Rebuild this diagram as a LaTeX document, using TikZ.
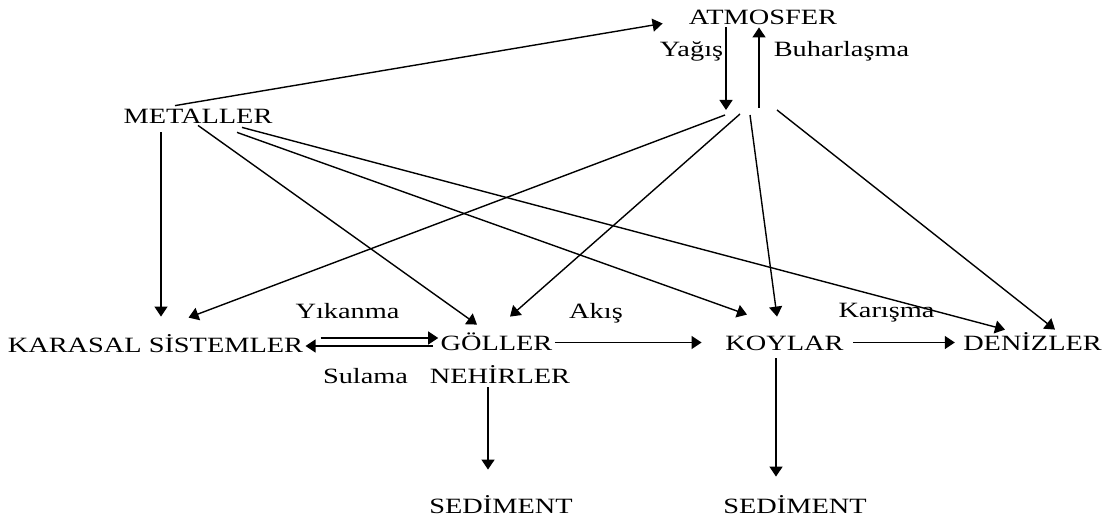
\documentclass[tikz,border=0pt]{standalone}
\usepackage{fontspec}
\setmainfont{Liberation Serif}[FakeStretch=1.3]
\usepackage{tikz}
\usetikzlibrary{arrows.meta}

\begin{document}
\begin{tikzpicture}[x=0.5pt,y=-0.5pt,
  every node/.style={font=\fontsize{10.9pt}{13pt}\selectfont,anchor=base},
  yer/.style={inner sep=1pt,text height=7.5pt,text depth=0pt},
  ok/.style={line width=0.7pt,-{Triangle[length=5pt,width=6.5pt]}}]
\useasboundingbox (0,0) rectangle (1112,519);
\node[yer] (atm) at (763,25) {ATMOSFER};
\node[yer] (met) at (198,123) {METALLER};
\node[yer] (kar) at (155.5,352) {KARASAL SİSTEMLER};
\node[yer] (gol) at (496.5,350) {GÖLLER};
\node[yer] (koy) at (784.5,350) {KOYLAR};
\node[yer] (den) at (1032.5,350) {DENİZLER};
\node[yer] (neh) at (500,383) {NEHİRLER};
\node[yer] (sed1) at (501,513) {SEDİMENT};
\node[yer] (sed2) at (795,513) {SEDİMENT};
\node (yag) at (691.5,57) {Yağış};
\node (buh) at (841.5,57) {Buharlaşma};
\node (yik) at (347.5,318) {Yıkanma};
\node (aki) at (596,318) {Akış};
\node (kari) at (886.5,317) {Karışma};
\node (sul) at (365.5,383) {Sulama};
\coordinate (inis) at (726,110);
\coordinate (cikis) at (759,108);
\coordinate (h1) at (725,115);
\coordinate (h2) at (740,114);
\coordinate (h3) at (750,115);
\coordinate (h4) at (777,110);
\draw[ok] ([xshift=-11.5pt]met.north) -- ([xshift=-12pt,yshift=-3pt]atm.west);
\draw[ok] ([xshift=-18.5pt]atm.south) -- (inis);
\draw[ok] (cikis) -- ([xshift=-2pt]atm.south);
\draw[ok] (h1) -- ([xshift=-58.5pt,yshift=8.5pt]kar.north east);
\draw[ok] (h2) -- ([xshift=6.75pt,yshift=8pt]gol.north);
\draw[ok] (h3) -- ([xshift=-3.75pt,yshift=8pt]koy.north);
\draw[ok] (h4) -- ([xshift=11.25pt,yshift=1.5pt]den.north);
\draw[ok] ([xshift=-18.5pt,yshift=-3.5pt]met.south) -- ([xshift=2.75pt,yshift=9pt]kar.north);
\draw[ok] (met.south) -- ([xshift=-9.75pt,yshift=4pt]gol.north);
\draw[ok] ([xshift=19.5pt,yshift=-3.5pt]met.south) -- ([xshift=-18.75pt,yshift=9pt]koy.north);
\draw[ok] ([xshift=22pt,yshift=-1pt]met.south) -- ([xshift=-13.75pt,yshift=1.5pt]den.north);
\draw[ok] ([xshift=7.5pt,yshift=3.25pt]kar.east) -- ([yshift=2.25pt]gol.west);
\draw[ok] ([xshift=-2.5pt,yshift=-1.75pt]gol.west) -- ([yshift=-0.75pt]kar.east);
\draw[ok] (gol.east) -- ([xshift=-10.75pt]koy.west);
\draw[ok] ([xshift=3.75pt]koy.east) -- ([xshift=-3pt]den.west);
\draw[ok] ([xshift=-6pt,yshift=-1pt]neh.south) -- ([xshift=-6.5pt,yshift=13pt]sed1.north);
\draw[ok] ([xshift=-4.25pt,yshift=-3pt]koy.south) -- ([xshift=-9.5pt,yshift=9.5pt]sed2.north);
\end{tikzpicture}
\end{document}
